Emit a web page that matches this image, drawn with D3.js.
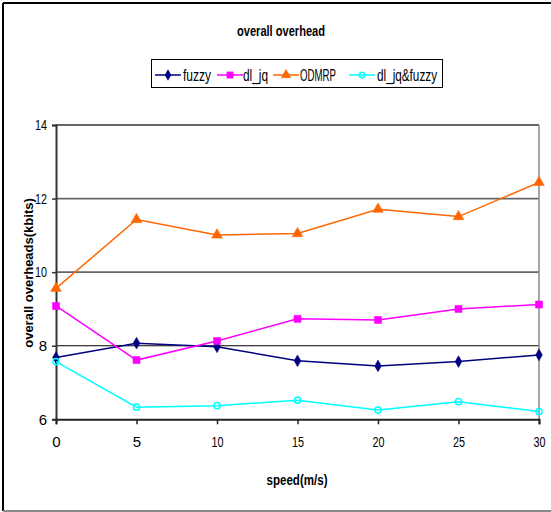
<!DOCTYPE html>
<html><head><meta charset="utf-8">
<script src="https://cdn.jsdelivr.net/npm/d3@7"></script>
<style>body{margin:0;background:#fff}svg{display:block}text{font-family:"Liberation Sans",Arial,sans-serif}</style>
</head><body><svg id="c" width="551" height="512"></svg>
<script>
const speeds = [0, 5, 10, 15, 20, 25, 30];
const fuzzy = [7.68, 8.07, 7.97, 7.59, 7.45, 7.57, 7.75];
const dl_jq = [9.08, 7.61, 8.13, 8.73, 8.70, 9.00, 9.12];
const odmrp = [9.56, 11.43, 11.01, 11.05, 11.71, 11.51, 12.44];
const dl_jq_fuzzy = [7.57, 6.33, 6.37, 6.52, 6.25, 6.48, 6.21];
const seriesNames = ["fuzzy", "dl_jq", "ODMRP", "dl_jq&fuzzy"];
const yTicks = [6, 8, 10, 12, 14];
const xTicks = [0, 5, 10, 15, 20, 25, 30];

const series = [
  {name: seriesNames[0], values: fuzzy, color: "#000080", sym: d3.symbolDiamond, size: 40, fill: true},
  {name: seriesNames[1], values: dl_jq, color: "#FF00FF", sym: d3.symbolSquare, size: 50, fill: true},
  {name: seriesNames[2], values: odmrp, color: "#FF6600", sym: d3.symbolTriangle, size: 50, fill: true},
  {name: seriesNames[3], values: dl_jq_fuzzy, color: "#00FFFF", sym: d3.symbolCircle, size: 30, fill: false}
];

const svg = d3.select("#c");
const narrow = (sel, w) => sel.each(function(){ const t=d3.select(this); const n=this.getComputedTextLength(); if(n>w) t.attr("textLength",w).attr("lengthAdjust","spacingAndGlyphs"); });

// outer border
svg.append("line").attr("x1",3).attr("y1",3).attr("x2",551).attr("y2",3).attr("stroke","#000").attr("stroke-width",2);
svg.append("line").attr("x1",3).attr("y1",3).attr("x2",3).attr("y2",511).attr("stroke","#000").attr("stroke-width",2);
svg.append("line").attr("x1",3).attr("y1",511).attr("x2",551).attr("y2",511).attr("stroke","#888").attr("stroke-width",2);

const x = d3.scaleLinear().domain([0,30]).range([56,539]);
const y = d3.scaleLinear().domain([6,14]).range([419.3,125]);

// gridlines
svg.append("g").selectAll("line").data(yTicks.filter(t=>t>6)).join("line")
  .attr("x1",56).attr("x2",539).attr("y1",d=>y(d)).attr("y2",d=>y(d))
  .attr("stroke",d=>d===8?"#000":"#666").attr("stroke-width",d=>d===8?1.2:1.8);
svg.append("line").attr("x1",539).attr("x2",539).attr("y1",y(14)).attr("y2",y(6)).attr("stroke","#888").attr("stroke-width",1.5);

// axes
const yAxis = d3.axisLeft(y).tickValues(yTicks).tickSize(4).tickPadding(5).tickFormat(d3.format("d"));
const gy = svg.append("g").attr("transform","translate(56,0)").call(yAxis);
gy.select(".domain").attr("stroke","#333").attr("stroke-width",2);
gy.selectAll(".tick line").attr("stroke","#333").attr("stroke-width",1.5);
gy.selectAll("text").attr("font-size",15).attr("fill","#000").call(narrow, 12);

const xAxis = d3.axisBottom(x).tickValues(xTicks).tickSize(5).tickPadding(12).tickFormat(d3.format("d"));
const gx = svg.append("g").attr("transform","translate(0,419.3)").call(xAxis);
gx.select(".domain").attr("stroke","#222").attr("stroke-width",2);
gx.selectAll(".tick line").attr("stroke","#222").attr("stroke-width",1.5);
gx.selectAll("text").attr("font-size",15).attr("fill","#000").call(narrow, 12);

// lines & markers
const line = d3.line().x((d,i)=>x(speeds[i])).y(d=>y(d));
series.forEach(s=>{
  svg.append("path").datum(s.values).attr("d",line).attr("fill","none").attr("stroke",s.color).attr("stroke-width",1.5);
  svg.append("g").selectAll("path").data(s.values).join("path")
    .attr("transform",(d,i)=>`translate(${x(speeds[i])},${y(d)})`)
    .attr("d",d3.symbol().type(s.sym).size(s.size))
    .attr("fill",s.fill?s.color:"none").attr("stroke",s.color).attr("stroke-width",s.fill?0.5:1.5);
});

// title
svg.append("text").attr("x",281).attr("y",36).attr("text-anchor","middle")
  .attr("font-size",14).attr("font-weight","bold").text("overall  overhead").call(narrow, 88);

// legend
svg.append("rect").attr("x",151.5).attr("y",59.5).attr("width",291).attr("height",28)
  .attr("fill","#fff").attr("stroke","#000").attr("stroke-width",1);
const legPos = [{lx:155,tx:183,w:28},{lx:217,tx:243,w:25},{lx:273,tx:300,w:36},{lx:349,tx:377,w:60}];
series.forEach((s,i)=>{
  const p = legPos[i];
  svg.append("line").attr("x1",p.lx).attr("x2",p.lx+26).attr("y1",75).attr("y2",75).attr("stroke",s.color).attr("stroke-width",1.5);
  svg.append("path").attr("transform",`translate(${p.lx+13},75)`)
    .attr("d",d3.symbol().type(s.sym).size(s.size*0.8))
    .attr("fill",s.fill?s.color:"none").attr("stroke",s.color).attr("stroke-width",s.fill?0.5:1.5);
  svg.append("text").attr("x",p.tx).attr("y",80.5).attr("font-size",16).text(s.name).call(narrow, p.w);
});

// axis titles
svg.append("text").attr("x",297).attr("y",485).attr("text-anchor","middle")
  .attr("font-size",15).attr("font-weight","bold").text("speed(m/s)").call(narrow, 61);
svg.append("text").attr("transform","translate(33,273) rotate(-90)").attr("text-anchor","middle")
  .attr("font-size",13).attr("font-weight","bold").text("overall overheads(kbits)").call(narrow, 167);
</script></body></html>
